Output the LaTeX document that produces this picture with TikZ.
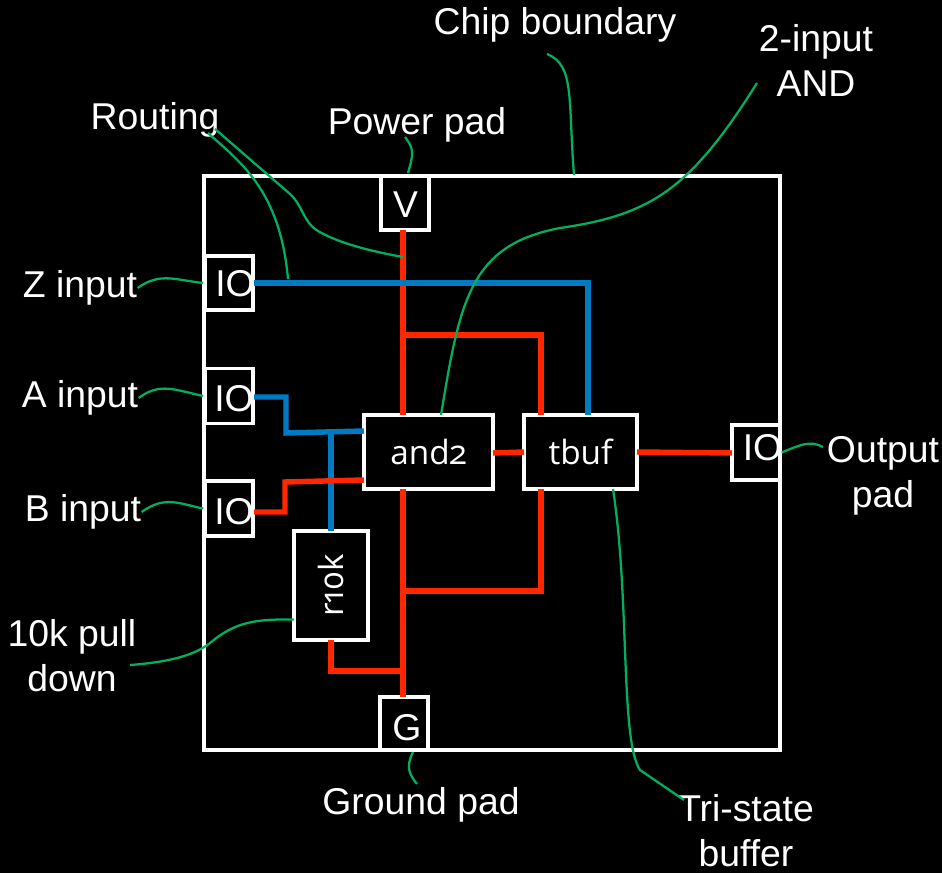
\documentclass[tikz,border=0pt]{standalone}
\usepackage{fontspec}
\setmainfont{Liberation Sans}
\newfontfamily\cellfont[Numbers=OldStyle]{Open Sans}
\definecolor{wirered}{RGB}{255,38,0}
\definecolor{wireblue}{RGB}{0,122,194}
\definecolor{leadgreen}{RGB}{0,176,96}
\newcommand{\padtext}[3]{\raisebox{-#2}[\height][\depth]{\makebox[0pt][c]{\kern#1 #3}}}
\tikzset{every picture/.style={line width=0.75pt}}
\tikzset{
  labeltext/.style={text=white,inner sep=0pt,align=center,font=\fontsize{28}{33.75}\selectfont},
  padbox/.style={draw=white,line width=2.6pt,fill=black,text=white,inner sep=0pt,font=\fontsize{28}{28}\selectfont},
  cellbox/.style={draw=white,line width=2.6pt,fill=black,text=white,inner sep=0pt,font=\cellfont\fontsize{25}{25}\selectfont},
  redwire/.style={draw=wirered,line width=4.1pt},
  bluewire/.style={draw=wireblue,line width=4.1pt},
  leader/.style={draw=leadgreen,line width=1.7pt}
}

\begin{document}
\begin{tikzpicture}[x=0.75pt,y=0.75pt,yscale=-1,xscale=1]
\fill [black] (0,0) rectangle (942,873);
\useasboundingbox (0,0) rectangle (942,873);

%Chip outline
\node (chip) [draw=white,line width=2.6pt,minimum width=432pt,minimum height=430.5pt,inner sep=0pt] at (492,463) {};

%Pads
\node (vpad) [padbox,minimum width=36pt,minimum height=40.5pt] at (405,203) {\padtext{1pt}{1.5pt}{V}};
\node (gpad) [padbox,minimum width=36pt,minimum height=39.75pt] at (404,723.5) {\padtext{4.5pt}{3pt}{G}};
\node (zpad) [padbox,minimum width=36pt,minimum height=40.5pt] at (229,283) {\padtext{9pt}{0.75pt}{IO}};
\node (apad) [padbox,minimum width=36pt,minimum height=41pt] at (229,396) {\padtext{7.5pt}{2.25pt}{IO}};
\node (bpad) [padbox,minimum width=36pt,minimum height=41pt] at (229,508.5) {\padtext{7.5pt}{2.5pt}{IO}};
\node (opad) [padbox,minimum width=36pt,minimum height=41pt] at (756,452.5) {\padtext{9.75pt}{-3.75pt}{IO}};

%Cells
\node (and) [cellbox,minimum width=96.75pt,minimum height=55.5pt] at (428.5,452) {and2};
\node (tbuf) [cellbox,minimum width=84.75pt,minimum height=55.5pt] at (580.5,452) {tbuf};
\node (res) [cellbox,minimum width=55.5pt,minimum height=81.75pt] at (331,585.5) {\rotatebox{90}{r10k}};

%Junctions
\coordinate (zturn) at (588,283);
\coordinate (vtap) at (403,335);
\coordinate (vturn) at (541,335);
\coordinate (gtap) at (403,591);
\coordinate (gturn) at (541,591);
\coordinate (rturn) at (331,671);
\coordinate (rtap) at (403,671);
\coordinate (atap) at (331,432);
\coordinate (routetap) at (288,279);
\coordinate (powertap) at (403,257);
\coordinate (restap) at (294,619.5);

%Red wires
\draw [redwire] (403,230) -- (403,415);
\draw [redwire] (vtap) -- (vturn) -- (541,415);
\draw [redwire] (403,489) -- (403,697);
\draw [redwire] (gtap) -- (gturn) -- (541,489);
\draw [redwire] (331,640) -- (rturn) -- (rtap);
\draw [redwire] (493,453) -- (524,452);
\draw [redwire] (637,452) -- (732,453);

%Blue wires
\draw [bluewire] (254,283) -- (zturn) -- (588,415);
\draw [bluewire] (254,397) -- (286,397) -- (286,433) -- (364,431);
\draw [bluewire] (atap) -- (331,531);
\draw [redwire] (254,512) -- (285,512) -- (285,482) -- (364,480);

% Text Node
\node (chiplabel) [labeltext] at (555,25) {Chip boundary};
% Text Node
\node (andlabel) [labeltext] at (816,60) {2-input\\AND};
% Text Node
\node (routelabel) [labeltext] at (155,120) {Routing};
% Text Node
\node (powerlabel) [labeltext] at (417,125) {Power pad};
% Text Node
\node (zlabel) [labeltext] at (80,288) {Z input};
% Text Node
\node (alabel) [labeltext] at (80,398) {A input};
% Text Node
\node (blabel) [labeltext] at (83,512) {B input};
% Text Node
\node (reslabel) [labeltext] at (72,656) {10k pull\\down};
% Text Node
\node (groundlabel) [labeltext] at (421,805) {Ground pad};
% Text Node
\node (tbuflabel) [labeltext] at (746,831) {Tri-state\\buffer};
% Text Node
\node (outlabel) [labeltext] at (883,476) {Output\\pad};

%Leaders
\draw [leader] (208,133) .. controls (240,162) and (280,190) .. (routetap);
\draw [leader] (215,129) -- (290,194) .. controls (303,206) and (303,222) .. (318,231) .. controls (340,244) and (375,252) .. (powertap);
\draw [leader] (405,137) .. controls (415,150) and (413,155) .. (408,173);
\draw [leader] (zlabel.east) .. controls (160,272) and (175,280) .. (zpad.west);
\draw [leader] (alabel.east) .. controls (160,382) and (175,390) .. (apad.west);
\draw [leader] (blabel.east) .. controls (165,495) and (180,504) .. (bpad.west);
\draw [leader] (130,665) .. controls (170,662) and (195,655) .. (210,643) .. controls (235,622) and (255,619) .. (restap);
\draw [leader] (opad.east) .. controls (800,445) and (810,440) .. (823,447);
\draw [leader] (547,54) .. controls (575,65) and (568,100) .. (574,175);
\draw [leader] (757,83) .. controls (690,190) and (650,215) .. (560,228) .. controls (470,245) and (460,300) .. (441,415);
\draw [leader] (613,489) .. controls (630,600) and (620,740) .. (640,770) -- (684,800);
\draw [leader] (413,752) .. controls (405,768) and (410,775) .. (417,784);

\end{tikzpicture}
\end{document}
